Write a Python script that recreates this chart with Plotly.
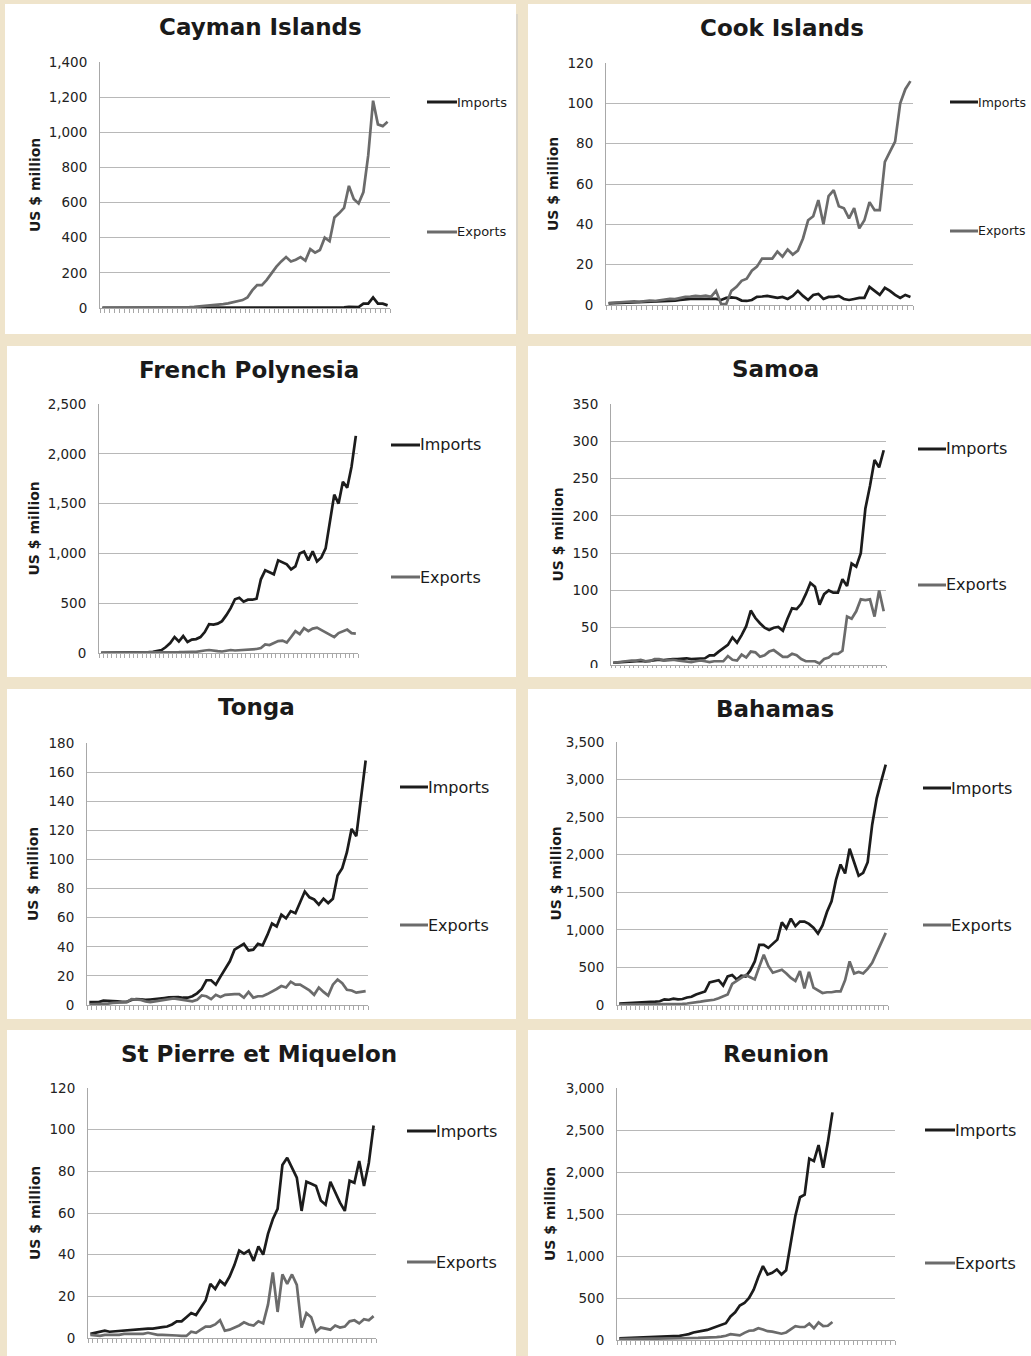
"""Imports and exports of eight small island economies, one line chart per panel."""

from __future__ import annotations

import plotly.graph_objects as go

WIDTH = 1031
HEIGHT = 1356
BEIGE = "#efe4cb"
IMPORT_COLOR = "#1c1c1c"
EXPORT_COLOR = "#6b6b6b"
GRID_COLOR = "#b8b8b8"
AXIS_COLOR = "#a8a8a8"
FONT = "DejaVu Sans"

# 60 annual categories (the x axis carries no labels in the original)
YEARS = list(range(1948, 2008))

CAYMAN_IMPORTS = [
    1, 1, 1, 1, 1, 1, 1, 1, 1, 1,
    1, 1, 1, 1, 1, 1.5, 1.5, 1.5, 2, 2,
    2, 2.5, 2.5, 3, 3, 3, 3.5, 3.5, 4, 4,
    4, 4, 4.5, 4.5, 4.5, 5, 5, 5, 5, 5,
    5, 5, 5, 5, 5, 5, 5, 5, 5, 5,
    4, 6, 6, 5, 25, 25, 60, 25, 25, 15,
]
CAYMAN_EXPORTS = [
    1, 1, 1, 1, 1, 1, 1.5, 1.5, 1.5, 2,
    2, 2, 2.5, 2.5, 3, 3, 3.5, 4, 5, 6,
    8, 10, 12, 15, 18, 22, 26, 31, 37, 45,
    60, 100, 130, 130, 160, 200, 235, 265, 290, 265,
    275, 290, 270, 335, 315, 330, 400, 380, 515, 540,
    570, 695, 620, 595, 660, 870, 1180, 1045, 1035, 1060,
]

COOK_IMPORTS = [
    0.8, 0.9, 1.0, 1.0, 1.1, 1.2, 1.3, 1.3, 1.4, 1.5,
    1.6, 1.8, 2.0, 2.2, 2.5, 2.8, 3.0, 3.0, 3.0, 3.0,
    3.2, 3.0, 2.5, 3.5, 3.8, 3.5, 2.2, 2.0, 2.5, 4.0,
    4.2, 4.5, 4.0, 3.5, 4.0, 3.0, 4.5, 7.0, 4.5, 2.5,
    5.0, 5.5, 3.0, 4.0, 4.0, 4.5, 3.0, 2.5, 3.0, 3.5,
    3.5, 9.0, 7.0, 5.0, 8.5, 7.0, 5.0, 3.5, 5.0, 4.0,
]
COOK_EXPORTS = [
    1.0, 1.2, 1.3, 1.5, 1.5, 1.8, 1.6, 2.0, 2.2, 2.0,
    2.3, 2.8, 3.0, 2.9, 3.5, 4.0, 4.2, 4.5, 4.3, 4.6,
    4.0, 7.0, 0.5, 0.5, 7.0, 9.0, 12.0, 13.0, 17.0, 19.0,
    23.0, 23.0, 23.0, 26.5, 24.0, 27.5, 25.0, 27.0, 33.0, 42.0,
    44.0, 52.0, 40.0, 54.0, 57.0, 49.0, 48.0, 43.0, 48.0, 38.0,
    42.0, 51.0, 47.0, 47.0, 71.0, 76.0, 81.0, 100.0, 107.0, 111.0,
]

FRENCH_POLYNESIA_IMPORTS = [
    2, 2, 2, 3, 3, 3, 4, 4, 5, 5,
    6, 8, 12, 20, 30, 60, 100, 160, 115, 170,
    110, 135, 140, 160, 210, 290, 285, 295, 320, 380,
    450, 540, 555, 515, 535, 535, 545, 740, 830, 810,
    790, 930, 910, 890, 840, 870, 1000, 1020, 930, 1020,
    920, 960, 1050, 1300, 1590, 1500, 1720, 1660, 1870, 2180,
]
FRENCH_POLYNESIA_EXPORTS = [
    1, 1, 1, 1, 1, 2, 2, 2, 2, 3,
    3, 3, 4, 5, 5, 6, 8, 6, 8, 10,
    8, 12, 12, 15, 25, 30, 22, 18, 15, 20,
    30, 25, 28, 25, 35, 35, 40, 50, 85, 80,
    100, 120, 125, 105, 160, 220, 190, 250, 220, 245,
    255, 230, 205, 185, 160, 200, 220, 235, 200, 195,
]

SAMOA_IMPORTS = [
    3, 3.5, 4, 3.5, 4.5, 5, 5.5, 5, 6, 7,
    7, 6.5, 7.5, 8, 8, 9, 9, 8, 8, 8,
    9, 13, 13, 18, 23, 27, 37, 30, 40, 52,
    73, 63, 56, 50, 47, 50, 51, 46, 62, 76,
    75, 82, 95, 110, 105, 81, 95, 100, 97, 97,
    115, 106, 136, 132, 150, 210, 240, 275, 265, 288,
]
SAMOA_EXPORTS = [
    3, 4, 5, 5, 6, 6, 7, 5, 5, 8,
    8, 6, 7, 7, 6, 5, 4, 4, 5, 6,
    5, 4, 5, 5, 5, 12, 7, 6, 14, 10,
    18, 17, 11, 13, 18, 20, 16, 11, 11, 15,
    13, 8, 5, 5, 5, 2, 8, 10, 15, 15,
    19, 65, 62, 72, 88, 87, 88, 65, 100, 72,
]

TONGA_IMPORTS = [
    2, 2, 2, 3, 3, 2.5, 2.5, 2.2, 2.2, 3.5,
    4, 3.8, 3.5, 3.8, 4, 4.2, 4.8, 5.2, 5.5, 5.5,
    5, 5, 6, 8, 11, 17, 17, 14, 19.5, 25,
    30, 38, 40, 42, 37.5, 38, 42, 41, 48, 56,
    54, 62, 59.5, 64.5, 63, 70, 78, 74, 72.5, 69,
    73, 70, 73, 89, 94, 105, 121, 116, 142, 168,
]
TONGA_EXPORTS = [
    0.5, 0.5, 0.6, 0.6, 1, 1.5, 1.5, 1.8, 2, 4,
    4, 3.5, 2.5, 2, 2.5, 3, 3.5, 4, 4.5, 4,
    3.5, 3, 2.5, 3.5, 6.5, 6, 4, 7, 5.5, 7,
    7.5, 7.5, 7.5, 5, 9, 5, 6, 6, 7.5, 9,
    11, 13, 12, 16, 14, 14, 12, 10, 7, 12,
    9, 6.5, 14, 17.5, 15, 10.5, 10, 8.5, 9, 9.5,
]

BAHAMAS_IMPORTS = [
    20, 22, 25, 28, 30, 35, 38, 40, 45, 50,
    75, 70, 85, 75, 80, 100, 110, 140, 160, 180,
    300, 310, 330, 260, 380, 400, 340, 390, 380, 460,
    580, 800, 800, 760, 820, 870, 1100, 1020, 1150, 1050,
    1110, 1110, 1080, 1030, 950, 1060, 1240, 1380, 1670, 1870,
    1750, 2080, 1900, 1720, 1760, 1900, 2400, 2750, 2980, 3200,
]
BAHAMAS_EXPORTS = [
    5, 5, 6, 6, 7, 7, 8, 8, 8, 9,
    10, 10, 12, 12, 15, 20, 25, 30, 45, 55,
    60, 70, 90, 120, 140, 280, 320, 360, 400, 370,
    340, 510, 670, 520, 430, 450, 470, 420, 360, 320,
    450, 220, 440, 230, 190, 160, 170, 170, 180, 180,
    330, 580, 420, 440, 420, 480, 560, 700, 820, 960,
]

ST_PIERRE_IMPORTS = [
    2, 2.5, 2.8, 3.5, 3, 3.2, 3.5, 3.6, 3.7, 3.8,
    4, 4.2, 4.5, 4.5, 5, 5.2, 5.5, 6.5, 8, 8,
    10, 12, 11, 14.5, 18, 26, 23.5, 27.5, 25.5, 29.5,
    35, 42, 40.5, 42, 37, 44, 40, 50, 57, 62,
    83, 86.5, 82, 77, 61, 75, 74, 73, 66, 64,
    75, 70, 65, 61, 75.5, 74.5, 85, 73, 84, 102,
]
ST_PIERRE_EXPORTS = [
    1.5, 1.2, 1, 1.5, 1.5, 1.3, 1.5, 2, 2, 1.8,
    2, 2, 2.5, 2, 1.5, 1.5, 1.5, 1.5, 1.2, 1,
    1, 3, 2.5, 4, 5.5, 5.5, 6.5, 8.5, 3.5, 4,
    5, 6, 7.5, 6.5, 6, 8, 7, 16, 31.5, 12.5,
    30.5, 26, 30.5, 25.5, 5, 12, 10, 3, 5, 4.5,
    4, 6, 5, 5.5, 8, 8.5, 7, 9, 8.5, 10.5,
]

# Reunion's series stop well before the end of the shared axis
REUNION_IMPORTS = [
    20, 22, 25, 28, 30, 30, 32, 35, 36, 38,
    40, 42, 45, 50, 60, 70, 90, 100, 110, 120,
    140, 160, 175, 200, 280, 330, 410, 440, 500, 600,
    750, 880, 780, 800, 840, 780, 830, 1150, 1480, 1700,
    1730, 2160, 2130, 2320, 2050, 2350, 2710,
]
REUNION_EXPORTS = [
    10, 12, 12, 13, 14, 14, 15, 16, 16, 18,
    18, 20, 20, 20, 22, 22, 24, 25, 26, 28,
    30, 35, 40, 50, 70, 65, 55, 85, 110, 115,
    140, 125, 105, 100, 90, 75, 90, 125, 165, 155,
    155, 195, 140, 210, 165, 170, 215,
]

# Page geometry in pixels: plot box (left, right, top, bottom), title centre,
# y-title centre x, legend line (x0, x1) and legend rows (y imports, y exports).
PANELS = [
    dict(name="Cayman Islands", imports=CAYMAN_IMPORTS, exports=CAYMAN_EXPORTS,
         ymax=1400, dtick=200, box=(100, 390, 62, 308), title=(260, 27), ytitle=35,
         legend=(427, 457, 102, 232), legend_size=13),
    dict(name="Cook Islands", imports=COOK_IMPORTS, exports=COOK_EXPORTS,
         ymax=120, dtick=20, box=(606, 913, 63, 305), title=(782, 28), ytitle=553,
         legend=(950, 978, 102, 231), legend_size=12.5),
    dict(name="French Polynesia", imports=FRENCH_POLYNESIA_IMPORTS, exports=FRENCH_POLYNESIA_EXPORTS,
         ymax=2500, dtick=500, box=(99, 358, 404, 653), title=(249, 370), ytitle=33,
         legend=(391, 420, 445, 577), legend_size=16),
    dict(name="Samoa", imports=SAMOA_IMPORTS, exports=SAMOA_EXPORTS,
         ymax=350, dtick=50, box=(611, 886, 404, 665), title=(775, 369), ytitle=557,
         legend=(918, 946, 449, 585), legend_size=16),
    dict(name="Tonga", imports=TONGA_IMPORTS, exports=TONGA_EXPORTS,
         ymax=180, dtick=20, box=(87, 368, 743, 1005), title=(256, 707), ytitle=33,
         legend=(400, 428, 787, 925), legend_size=16),
    dict(name="Bahamas", imports=BAHAMAS_IMPORTS, exports=BAHAMAS_EXPORTS,
         ymax=3500, dtick=500, box=(617, 888, 742, 1005), title=(775, 709), ytitle=555,
         legend=(923, 951, 788, 925), legend_size=16),
    dict(name="St Pierre et Miquelon", imports=ST_PIERRE_IMPORTS, exports=ST_PIERRE_EXPORTS,
         ymax=120, dtick=20, box=(88, 376, 1088, 1338), title=(259, 1054), ytitle=35,
         legend=(407, 436, 1131, 1262), legend_size=16),
    dict(name="Reunion", imports=REUNION_IMPORTS, exports=REUNION_EXPORTS,
         ymax=3000, dtick=500, box=(617, 895, 1088, 1340), title=(776, 1054), ytitle=550,
         legend=(925, 955, 1130, 1263), legend_size=16),
]

# White card behind each panel (x0, x1, y0, y1) in pixels
CARDS = [
    (5, 516, 4, 334), (528, WIDTH, 4, 334),
    (7, 516, 346, 677), (528, WIDTH, 346, 677),
    (7, 516, 689, 1019), (528, WIDTH, 689, 1019),
    (7, 516, 1030, HEIGHT), (528, WIDTH, 1030, HEIGHT),
]


def fx(px: float) -> float:
    """Convert a horizontal pixel position to paper coordinates."""
    return px / WIDTH


def fy(py: float) -> float:
    """Convert a vertical pixel position to paper coordinates."""
    return 1 - py / HEIGHT


def add_panel(figure: go.Figure, index: int, panel: dict) -> None:
    """Add the two series, axes, title, y title and legend of one panel."""

    suffix = "" if index == 1 else str(index)
    left, right, top, bottom = panel["box"]

    for name, values, color in (
        ("Imports", panel["imports"], IMPORT_COLOR),
        ("Exports", panel["exports"], EXPORT_COLOR),
    ):
        figure.add_trace(
            go.Scatter(
                x=YEARS[: len(values)],
                y=values,
                mode="lines",
                name=name,
                line={"color": color, "width": 2.7},
                xaxis=f"x{suffix}",
                yaxis=f"y{suffix}",
                showlegend=False,
            )
        )

    figure.layout[f"xaxis{suffix}"] = dict(
        domain=[fx(left), fx(right)],
        anchor=f"y{suffix}",
        range=[YEARS[0] - 0.5, YEARS[-1] + 0.5],
        tickmode="array",
        tickvals=[year - 0.5 for year in YEARS] + [YEARS[-1] + 0.5],
        ticks="outside",
        ticklen=4,
        tickcolor=AXIS_COLOR,
        showticklabels=False,
        showgrid=False,
        zeroline=False,
        showline=True,
        linecolor=AXIS_COLOR,
        linewidth=1,
        automargin=False,
        fixedrange=True,
    )
    figure.layout[f"yaxis{suffix}"] = dict(
        domain=[fy(bottom), fy(top)],
        anchor=f"x{suffix}",
        range=[0, panel["ymax"]],
        dtick=panel["dtick"],
        tickformat=",",
        ticks="",
        ticklabelstandoff=9,
        tickfont={"family": FONT, "size": 13.5, "color": "#222222"},
        showgrid=True,
        gridcolor=GRID_COLOR,
        gridwidth=1,
        zeroline=False,
        showline=True,
        linecolor=AXIS_COLOR,
        linewidth=1,
        automargin=False,
        fixedrange=True,
    )

    title_x, title_y = panel["title"]
    figure.add_annotation(
        text=f"<b>{panel['name']}</b>",
        x=fx(title_x), y=fy(title_y), xref="paper", yref="paper",
        xanchor="center", yanchor="middle", showarrow=False,
        font={"family": FONT, "size": 23, "color": "#1a1a1a"},
    )
    figure.add_annotation(
        text="<b>US $ million</b>",
        x=fx(panel["ytitle"]), y=fy((top + bottom) / 2), xref="paper", yref="paper",
        xanchor="center", yanchor="middle", textangle=-90, showarrow=False,
        font={"family": FONT, "size": 14, "color": "#1a1a1a"},
    )

    x0, x1, y_imports, y_exports = panel["legend"]
    for label, y_pos, color in (("Imports", y_imports, IMPORT_COLOR), ("Exports", y_exports, EXPORT_COLOR)):
        figure.add_shape(
            type="line", xref="paper", yref="paper",
            x0=fx(x0), x1=fx(x1), y0=fy(y_pos), y1=fy(y_pos),
            line={"color": color, "width": 3},
        )
        figure.add_annotation(
            text=label,
            x=fx(x1), y=fy(y_pos), xref="paper", yref="paper",
            xanchor="left", yanchor="middle", showarrow=False, xshift=-2,
            font={"family": FONT, "size": panel["legend_size"], "color": "#1a1a1a"},
        )


figure = go.Figure()

for x0, x1, y0, y1 in CARDS:
    figure.add_shape(
        type="rect", xref="paper", yref="paper", layer="below",
        x0=fx(x0), x1=fx(x1), y0=fy(y1), y1=fy(y0),
        fillcolor="white", line={"width": 0},
    )

# faint divider at the right edge of the first card
figure.add_shape(
    type="line", xref="paper", yref="paper", layer="below",
    x0=fx(517), x1=fx(517), y0=fy(320), y1=fy(14),
    line={"color": "#c8c8c8", "width": 1},
)

for number, panel in enumerate(PANELS, start=1):
    add_panel(figure, number, panel)

# the Samoa chart is cropped just below its baseline in the original
figure.add_shape(
    type="rect", xref="paper", yref="paper", layer="above",
    x0=fx(528), x1=fx(WIDTH), y0=fy(677), y1=fy(668),
    fillcolor="white", line={"width": 0},
)

figure.update_layout(
    width=WIDTH,
    height=HEIGHT,
    margin={"l": 0, "r": 0, "t": 0, "b": 0, "pad": 0, "autoexpand": False},
    paper_bgcolor=BEIGE,
    plot_bgcolor="white",
    font={"family": FONT, "color": "#222222"},
    showlegend=False,
)

# drop the browser's default page margin so the figure sits at the window origin
figure.write_html(
    "out.html",
    config={"displayModeBar": False},
    post_script="document.body.style.margin = '0'; document.body.style.overflow = 'hidden';",
)
